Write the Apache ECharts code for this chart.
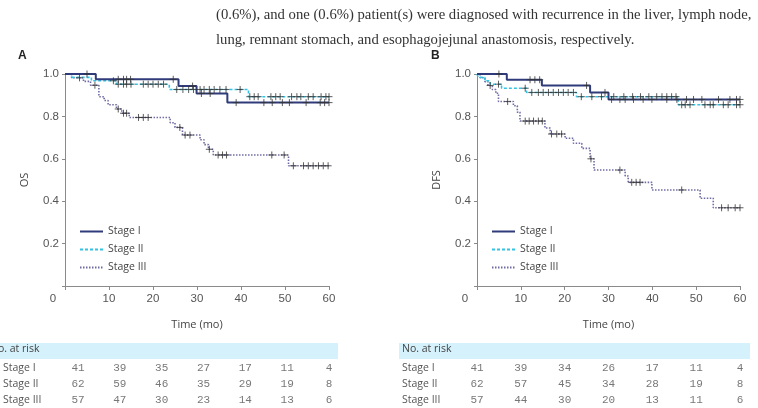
<!DOCTYPE html>
<html>
<head>
<meta charset="utf-8">
<script src="https://cdn.jsdelivr.net/npm/echarts@6/dist/echarts.min.js"></script>
<style>
  html, body { margin: 0; padding: 0; background: #fff; }
  #main { width: 758px; height: 408px; }
</style>
</head>
<body>
<div id="main"></div>
<script>
  var stageNames = ['Stage I', 'Stage II', 'Stage III'];
  var xTicks = [0, 10, 20, 30, 40, 50, 60];

  // OS, steps [month, survival]
  var osStage1 = [[0, 1], [7.0, 0.975], [25.8, 0.943], [29.9, 0.908], [36.9, 0.865]];
  var osStage2 = [[0, 1], [1.5, 0.984], [6.0, 0.968], [11.7, 0.952], [23.7, 0.927], [41.7, 0.893]];
  var osStage3 = [[0, 1], [1.5, 0.982], [4.2, 0.965], [5.8, 0.947], [7.7, 0.893], [8.9, 0.875], [9.8, 0.855],
    [11.7, 0.835], [12.9, 0.815], [14.6, 0.795], [23.9, 0.77], [25.0, 0.748], [26.7, 0.712], [30.7, 0.69],
    [31.6, 0.667], [32.6, 0.645], [33.7, 0.618], [50.8, 0.567]];
  // censored times
  var osCens1 = [5.0, 12.1, 13.3, 14.0, 14.9, 24.6, 29.0, 31.0, 33.0, 38.9, 45.2, 47.1, 49.4, 51.0, 54.8, 58.0, 59.0, 60.0];
  var osCens2 = [11.0, 12.1, 13.3, 14.0, 15.0, 17.8, 18.9, 20.0, 21.2, 22.4, 25.4, 26.8, 28.1, 29.2, 30.7, 31.6,
    32.8, 33.9, 35.2, 36.6, 39.8, 42.0, 43.0, 43.9, 46.8, 47.9, 48.9, 51.5, 52.7, 53.6, 55.3, 56.4, 58.2, 59.3, 60.0];
  var osCens3 = [3.3, 6.8, 12.1, 13.3, 14.0, 16.7, 17.8, 18.9, 26.1, 27.3, 28.4, 32.8, 34.8, 35.8, 36.7, 47.0,
    49.8, 51.9, 54.2, 55.3, 56.4, 57.6, 58.7, 59.8];

  // DFS
  var dfsStage1 = [[0, 1], [6.8, 0.973], [14.8, 0.946], [25.8, 0.913], [30.0, 0.880]];
  var dfsStage2 = [[0, 1], [0.3, 0.984], [1.8, 0.968], [3.0, 0.952], [5.6, 0.933], [11.3, 0.913], [22.7, 0.893], [45.9, 0.855]];
  var dfsStage3 = [[0, 1], [0.7, 0.982], [1.8, 0.964], [2.5, 0.946], [3.5, 0.927], [4.3, 0.909], [4.9, 0.870],
    [8.3, 0.85], [9.2, 0.82], [9.8, 0.778], [15.5, 0.745], [16.7, 0.717], [20.1, 0.697], [22.0, 0.673],
    [23.9, 0.649], [25.8, 0.600], [26.7, 0.547], [33.8, 0.519], [34.5, 0.489], [39.9, 0.453], [50.9, 0.414], [53.9, 0.369]];
  var dfsCens1 = [5.0, 12.1, 13.2, 14.3, 25.0, 29.2, 30.7, 32.6, 33.8, 35.7, 37.9, 39.9, 43.3, 45.6, 47.8, 49.4,
    51.3, 55.1, 57.7, 59.2, 60.0];
  var dfsCens2 = [4.9, 11.0, 12.5, 14.0, 15.1, 16.3, 17.4, 18.6, 19.7, 20.8, 22.0, 23.8, 26.2, 28.4, 31.2, 33.5,
    35.5, 37.3, 39.2, 41.0, 42.2, 43.3, 44.4, 45.4, 46.7, 47.5, 48.6, 52.0, 53.2, 53.9, 56.2, 57.3, 59.2, 60.0];
  var dfsCens3 = [3.0, 7.0, 11.0, 11.9, 12.9, 14.0, 14.9, 17.0, 18.2, 19.3, 26.0, 32.6, 35.3, 36.3, 37.2, 46.7,
    55.8, 57.3, 58.9, 60.0];

  // number at risk
  var osRisk1 = [41, 39, 35, 27, 17, 11, 4];
  var osRisk2 = [62, 59, 46, 35, 29, 19, 8];
  var osRisk3 = [57, 47, 30, 23, 14, 13, 6];
  var dfsRisk1 = [41, 39, 34, 26, 17, 11, 4];
  var dfsRisk2 = [62, 57, 45, 34, 28, 19, 8];
  var dfsRisk3 = [57, 44, 30, 20, 13, 11, 6];

  var textLine1 = '(0.6%), and one (0.6%) patient(s) were diagnosed with recurrence in the liver, lymph node,';
  var textLine2 = 'lung, remnant stomach, and esophagojejunal anastomosis, respectively.';

  var colors = ['#2f3b7a', '#35c3e3', '#6f6ba3'];
  var dashes = ['solid', [3, 2], [1.5, 1.5]];
  var widths = [2, 1.6, 1.6];
  var sans = 'Liberation Sans';
  var soft = 'Open Sans';
  var mono = 'Liberation Mono';

  function stepLine(steps) {
    var d = steps.slice();
    d.push([60, steps[steps.length - 1][1]]);
    return d;
  }
  function survAt(steps, t) {
    var s = steps[0][1];
    for (var i = 0; i < steps.length; i++) { if (steps[i][0] <= t) s = steps[i][1]; }
    return s;
  }
  function censData(steps, times) {
    return times.map(function (t) { return [t, survAt(steps, t)]; });
  }
  function riskData(rows) {
    var out = [];
    rows.forEach(function (r, ri) {
      r.forEach(function (v, i) { out.push([xTicks[i], ri, v]); });
    });
    return out;
  }

  var chart = echarts.init(document.getElementById('main'));

  function curveAxes(idx, name) {
    return {
      x: {
        type: 'value', gridIndex: idx, min: 0, max: 60, interval: 10,
        name: 'Time (mo)', nameLocation: 'middle', nameGap: 33,
        nameTextStyle: { fontFamily: soft, fontSize: 11, color: '#444' },
        axisLine: { lineStyle: { color: '#8a8a8a' } },
        axisTick: { length: 4, lineStyle: { color: '#8a8a8a' } },
        splitLine: { show: false },
        axisLabel: {
          fontFamily: sans, fontSize: 11.5, color: '#555', margin: 7,
          formatter: function (v) { return v === 0 ? '{z|0}' : String(v); },
          rich: { z: { fontFamily: sans, fontSize: 11.5, color: '#555', padding: [0, 24, 0, 0] } }
        }
      },
      y: {
        type: 'value', gridIndex: idx, min: 0, max: 1, interval: 0.2,
        name: name, nameLocation: 'middle', nameGap: 35,
        nameTextStyle: { fontFamily: soft, fontSize: 11, color: '#444' },
        axisLine: { show: true, lineStyle: { color: '#8a8a8a' } },
        axisTick: { show: true, length: 3, lineStyle: { color: '#8a8a8a' } },
        splitLine: { show: false },
        axisLabel: {
          fontFamily: sans, fontSize: 11.5, color: '#555', margin: 6,
          formatter: function (v) { return v === 0 ? '' : v.toFixed(1); }
        }
      }
    };
  }
  function tableAxes(idx) {
    return {
      x: { type: 'value', gridIndex: idx, min: 0, max: 60, show: false },
      y: {
        type: 'category', gridIndex: idx, data: stageNames, inverse: true,
        axisLine: { show: false }, axisTick: { show: false }, splitLine: { show: false },
        axisLabel: { align: 'left', margin: 75, fontFamily: soft, fontSize: 10.5, color: '#555' }
      }
    };
  }

  var aC = curveAxes(0, 'OS'), bC = curveAxes(1, 'DFS'), aT = tableAxes(2), bT = tableAxes(3);

  var series = [];
  function addCurves(xi, stepsList, censList) {
    stepsList.forEach(function (st, k) {
      series.push({
        name: stageNames[k], type: 'line', xAxisIndex: xi, yAxisIndex: xi,
        step: 'end', symbol: 'none', data: stepLine(st), z: 3 - k,
        lineStyle: { color: colors[k], width: widths[k], type: dashes[k] },
        itemStyle: { color: colors[k] }
      });
    });
    stepsList.forEach(function (st, k) {
      series.push({
        name: 'cens' + xi + k, type: 'scatter', xAxisIndex: xi, yAxisIndex: xi,
        symbol: 'path://M0,-1L0,1M-1,0L1,0', symbolSize: 7,
        data: censData(st, censList[k]), z: 5,
        itemStyle: { color: 'none', borderColor: '#333', borderWidth: 1 }
      });
    });
  }
  addCurves(0, [osStage1, osStage2, osStage3], [osCens1, osCens2, osCens3]);
  addCurves(1, [dfsStage1, dfsStage2, dfsStage3], [dfsCens1, dfsCens2, dfsCens3]);

  function addRisk(xi, rows) {
    series.push({
      name: 'risk' + xi, type: 'scatter', xAxisIndex: xi, yAxisIndex: xi,
      symbolSize: 1, itemStyle: { color: 'transparent' },
      data: riskData(rows),
      label: {
        show: true, position: 'inside',
        formatter: function (p) { return String(p.value[2]); },
        fontFamily: mono, fontSize: 11, color: '#555'
      }
    });
  }
  addRisk(2, [osRisk1, osRisk2, osRisk3]);
  addRisk(3, [dfsRisk1, dfsRisk2, dfsRisk3]);

  function legendAt(left) {
    return {
      orient: 'vertical', left: left, top: 221, itemWidth: 23, itemHeight: 8, itemGap: 7,
      data: stageNames, selectedMode: false,
      itemStyle: { opacity: 0 },
      textStyle: { fontFamily: soft, fontSize: 10.5, color: '#444' }
    };
  }

  function tableHead(left) {
    return [
      { type: 'rect', left: left, top: 343, shape: { width: 351, height: 16 }, style: { fill: '#d5f1fb' }, z: -1 },
      { type: 'text', left: left + 3, top: 344, style: { text: 'No. at risk', fontFamily: soft, fontSize: 10.5, fill: '#444' } }
    ];
  }

  var option = {
    animation: false,
    grid: [
      { left: 65, top: 74, width: 264, height: 212 },
      { left: 477, top: 74, width: 263, height: 212 },
      { left: 65, top: 360, width: 264, height: 51 },
      { left: 477, top: 360, width: 263, height: 51 }
    ],
    xAxis: [aC.x, bC.x, aT.x, bT.x],
    yAxis: [aC.y, bC.y, aT.y, bT.y],
    legend: [legendAt(74), legendAt(486)],
    graphic: [
      { type: 'text', left: 216, top: 8, style: { text: textLine1, fontFamily: 'Liberation Serif', fontSize: 14.7, fill: '#333' } },
      { type: 'text', left: 216, top: 33, style: { text: textLine2, fontFamily: 'Liberation Serif', fontSize: 14.7, fill: '#333' } },
      { type: 'text', left: 18, top: 50, style: { text: 'A', fontFamily: sans, fontWeight: 'bold', fontSize: 12, fill: '#222' } },
      { type: 'text', left: 431, top: 50, style: { text: 'B', fontFamily: sans, fontWeight: 'bold', fontSize: 12, fill: '#222' } }
    ].concat(tableHead(-13), tableHead(399)),
    series: series
  };
  chart.setOption(option);
</script>
</body>
</html>
